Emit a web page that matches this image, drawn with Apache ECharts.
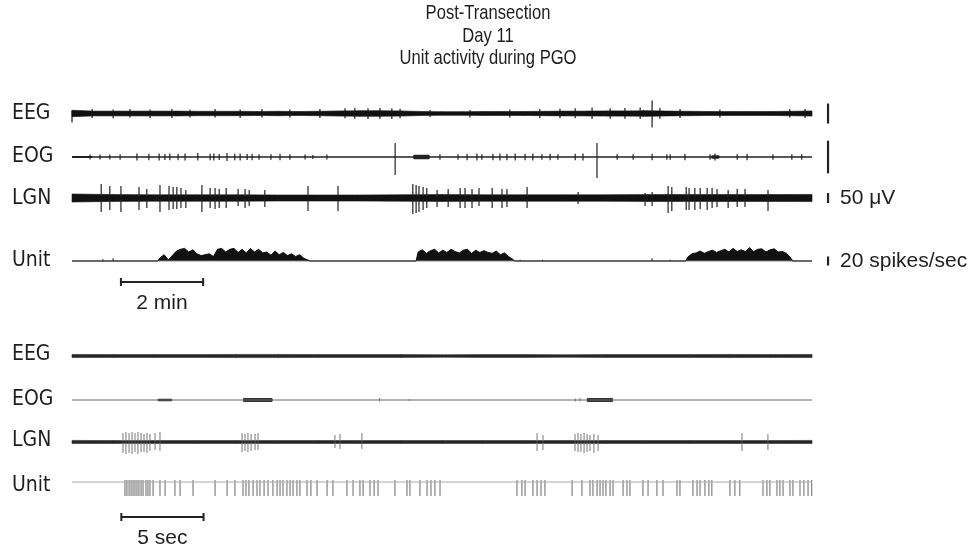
<!DOCTYPE html>
<html><head><meta charset="utf-8">
<script src="https://cdn.jsdelivr.net/npm/echarts@6/dist/echarts.min.js"></script>
<style>html,body{margin:0;padding:0;background:#fff}#c{width:976px;height:544px}</style>
</head><body><div id="c"></div><script>
// ---------- text ----------
const titleLines = ['Post-Transection', 'Day 11', 'Unit activity during PGO'];
const rowLabels = ['EEG', 'EOG', 'LGN', 'Unit', 'EEG', 'EOG', 'LGN', 'Unit'];
const calLabels = ['', '', '50 μV', '20 spikes/sec'];
const scaleLabels = ['2 min', '5 sec'];

// ---------- top panel (time in minutes, amplitude in µV / spikes per sec) ----------
const eegTopEnvStep = 0.5;
const eegTopEnv = [16,12,12,12,12,12,11,11,11,10,11,10,11,13,14,14,13,10,9,9,10,10,10,11,12,12,13,13,14,12,11,10,10,10,10,11,13];
const eegTopSpikes = [[0.0,15,45],[0.35,8,8],[0.49,22,22],[1.00,20,24],[1.41,22,20],[1.90,20,22],[2.43,22,22],[2.87,20,20],[3.4,6,6],[3.48,22,20],[4.09,20,22],[4.62,22,20],[5.30,20,20],[6.03,22,22],[6.64,26,24],[6.88,28,26],[7.20,26,28],[7.3,12,12],[7.49,28,26],[7.7,10,12],[7.78,26,28],[7.98,24,24],[8.71,18,18],[9.68,18,20],[10.65,20,20],[11.38,22,22],[11.87,24,24],[12.24,26,24],[12.65,30,28],[13.09,26,26],[13.45,28,26],[13.6,14,14],[13.82,30,28],[13.9,18,16],[14.11,65,70],[14.30,28,26],[14.79,22,22],[15.76,20,20],[17.46,22,20],[17.83,22,22],[17.9,8,8]];

const eogTopSpikes = [[0.44,12,12],[0.68,12,12],[0.92,12,12],[1.17,14,14],[1.58,18,18],[1.87,16,16],[2.12,18,18],[2.26,15,15],[2.38,18,16],[2.58,16,16],[2.75,18,18],[3.06,20,18],[3.36,16,16],[3.45,18,18],[3.58,15,15],[3.77,20,20],[3.96,16,16],[4.09,18,18],[4.26,15,15],[4.38,16,16],[4.55,14,14],[4.84,14,14],[5.06,16,16],[5.30,14,14],[5.67,12,12],[5.86,10,10],[6.20,12,12],[7.86,70,90],[8.95,14,14],[9.39,14,14],[9.61,16,16],[9.85,18,18],[9.97,14,14],[10.24,16,16],[10.41,18,18],[10.58,16,16],[10.78,18,18],[11.02,16,16],[11.21,18,18],[11.43,14,14],[11.63,16,16],[11.82,14,14],[12.24,16,16],[12.43,18,18],[12.77,70,105],[13.26,14,14],[13.65,14,14],[14.11,16,16],[14.47,14,14],[14.55,14,14],[14.91,16,16],[15.52,14,14],[15.64,18,18],[16.18,14,14],[16.42,16,16],[17.05,14,14],[17.51,14,14],[17.75,14,14]];
const eogTopBlobs = [[0.0,0.5,5],[8.3,8.7,11],[15.55,15.75,9]];

const lgnTopEnvStep = 1;
const lgnTopEnv = [20,17,16,16,16,15,15,15,16,17,16,16,16,16,17,17,17,17,18];
const lgnTopSpikes = [[0.71,70,70],[0.92,60,60],[1.19,60,70],[1.63,55,60],[1.82,45,50],[2.14,65,70],[2.36,60,60],[2.46,55,55],[2.55,55,55],[2.65,50,50],[2.77,40,50],[3.16,65,70],[3.36,50,50],[3.48,50,55],[3.58,45,50],[3.75,50,50],[4.04,45,40],[4.21,45,50],[4.31,40,40],[4.69,40,45],[5.74,60,65],[6.47,60,65],[8.29,70,80],[8.37,65,75],[8.44,60,70],[8.54,55,60],[8.63,50,50],[8.88,40,45],[9.15,45,45],[9.44,50,50],[9.56,50,50],[9.73,45,50],[9.90,50,40],[10.22,50,50],[10.46,45,50],[10.58,45,45],[11.07,55,50],[12.31,30,30],[13.94,25,40],[14.11,30,40],[14.50,60,75],[14.59,55,65],[14.94,55,60],[15.01,50,60],[15.15,50,60],[15.28,50,55],[15.45,50,60],[15.57,50,50],[15.69,45,45],[15.96,40,50],[16.18,45,45],[16.37,45,45],[16.93,40,65]];

const unitBurstStep = 0.1;
const unitBurstStarts = [2.14, 8.42, 14.98];
const unitBurst1 = [7,14,3,12,22,26,28,20,25,16,12,14,16,10,26,28,20,26,28,19,26,18,28,20,26,18,20,13,22,14,19,12,16,10,14,6,2];
const unitBurst2 = [20,25,17,23,26,18,24,19,26,21,18,24,26,17,24,19,23,19,17,22,14,18,10,4];
const unitBurst3 = [9,16,18,22,17,21,24,19,23,26,20,28,21,25,21,30,21,26,27,20,25,27,20,21,17,7];
const unitTopBlips = [[0.75,4,0],[1.0,6,0],[10.9,3,0],[11.45,3,0],[14.11,6,0],[14.55,3,0]];

const calTime = 18.39;
const calHalf = [50, 82, 25, 10];        // EEG, EOG, LGN (µV), Unit (spikes/s)
const topScaleBar = [1.19, 3.19];       // 2 min

// ---------- bottom panel (time in seconds) ----------
const eegLowEnvStep = 2.5;
const eegLowEnv = [8,7,7,7,8,8,7,7,7,6,7,7,6,7,7,7,8,7,8];
const eogLowBlobs = [[5.2,6.1,6],[10.4,12.2,10],[31.3,32.9,10]];
const eogLowWiggles = [[18.7,10,6],[20.5,4,4],[30.6,8,8],[30.9,10,6]];
const lgnLowEnvStep = 2.5;
const lgnLowEnv = [8,7,7,7,7,7,7,7,7,7,7,7,7,7,7,7,7,7,8];
const lgnLowSpikes = [[3.10,45,55],[3.28,50,60],[3.47,45,55],[3.65,50,60],[3.83,45,50],[4.01,50,60],[4.20,45,50],[4.38,40,50],[4.56,45,55],[4.74,40,45],[5.05,45,40],[5.35,50,45],[10.34,45,50],[10.52,40,45],[10.70,45,50],[10.89,40,45],[11.13,40,40],[11.31,45,40],[15.99,35,30],[16.30,40,35],[17.63,45,35],[28.28,45,45],[28.64,35,40],[30.59,40,45],[30.77,45,50],[30.95,40,50],[31.14,45,55],[31.32,40,50],[31.50,35,45],[31.74,40,55],[31.99,35,45],[40.74,45,45],[42.32,40,40]];
const unitLowTicks = [3.22,3.34,3.47,3.59,3.71,3.83,3.95,4.07,4.20,4.32,4.50,4.62,4.74,4.93,5.35,5.66,6.26,6.57,7.36,8.70,9.43,9.91,10.40,10.58,10.76,11.01,11.25,11.43,11.68,11.92,12.22,12.47,12.65,12.83,13.07,13.26,13.44,13.68,13.86,14.29,14.53,14.90,15.51,15.87,16.72,17.09,17.51,17.70,18.12,18.37,18.61,19.64,20.37,20.55,21.16,21.59,21.83,22.07,22.38,27.06,27.36,27.55,28.03,28.28,28.52,28.76,30.41,31.01,31.50,31.68,31.93,32.11,32.29,32.47,32.72,32.90,33.51,33.75,33.93,34.72,35.03,35.57,35.94,36.79,36.97,37.76,38.01,38.19,38.49,38.73,38.91,40.01,40.31,40.61,42.02,42.26,42.44,42.87,43.05,43.24,43.66,43.84,44.27,44.51,44.76,44.98];
const lowScaleBar = [3.0, 8.0];         // 5 sec

// ---------- layout ----------
const FONT = "'Liberation Sans', Arial, sans-serif";
const NARROW = "'Liberation Sans Narrow', 'DejaVu Sans Condensed', 'Liberation Sans', sans-serif";
const TXT = '#1e1e1e';
const topLen = 18, topMax = 18.5, lowMax = 45;
const pxPerMin = 740 / topLen;
const grids = [
  {top: 83.5, height: 60, xMax: topMax, y: [-150,150]},   // 0 EEG
  {top: 127,  height: 60, xMax: topMax, y: [-150,150]},   // 1 EOG
  {top: 168,  height: 60, xMax: topMax, y: [-150,150]},   // 2 LGN
  {top: 243,  height: 27, xMax: topMax, y: [-20,40]},     // 3 Unit
  {top: 272,  height: 20, xMax: topMax, y: [0,1]},        // 4 scale
  {top: 326,  height: 60, xMax: lowMax, y: [-150,150]},   // 5 EEG
  {top: 370,  height: 60, xMax: lowMax, y: [-150,150]},   // 6 EOG
  {top: 412,  height: 60, xMax: lowMax, y: [-150,150]},   // 7 LGN
  {top: 467,  height: 30, xMax: lowMax, y: [-15,15]},     // 8 Unit raster
  {top: 507,  height: 20, xMax: lowMax, y: [0,1]}         // 9 scale
];
const labelY = [114, 157, 199, 261, 355, 400, 441, 486];
const titleY = [13.5, 36, 58.5];

// ---------- renderers ----------
function spikeRender(color, width) {
  return function (params, api) {
    const t = api.value(0), up = api.value(1), dn = api.value(2);
    const a = api.coord([t, up]), b = api.coord([t, -dn]);
    return {type: 'line', shape: {x1: a[0], y1: a[1], x2: b[0], y2: b[1]}, style: {stroke: color, lineWidth: width}};
  };
}
function bandRender(color, n) {
  return function (params, api) {
    const i = params.dataIndexInside;
    if (i >= n - 1) return null;
    const t0 = api.value(0, i), e0 = api.value(1, i), t1 = api.value(0, i + 1), e1 = api.value(1, i + 1);
    const pts = [api.coord([t0, e0]), api.coord([t1, e1]), api.coord([t1, -e1]), api.coord([t0, -e0])];
    return {type: 'polygon', shape: {points: pts}, style: {fill: color, stroke: color, lineWidth: 0.6}};
  };
}
function blobRender(color) {
  return function (params, api) {
    const a = api.coord([api.value(0), api.value(2)]), b = api.coord([api.value(1), -api.value(2)]);
    return {type: 'rect', shape: {x: a[0], y: a[1], width: b[0] - a[0], height: b[1] - a[1], r: 1}, style: {fill: color}};
  };
}
function calRender(label) {
  return function (params, api) {
    const t = api.value(0), h = api.value(1);
    const a = api.coord([t, h]), b = api.coord([t, -h]);
    const children = [{type: 'line', shape: {x1: a[0], y1: a[1], x2: b[0], y2: b[1]}, style: {stroke: '#222', lineWidth: 2.2}}];
    if (label) children.push({type: 'text', x: a[0] + 12, y: (a[1] + b[1]) / 2,
      style: {text: label, fill: TXT, font: '21px ' + FONT, verticalAlign: 'middle', align: 'left'}});
    return {type: 'group', children};
  };
}
function scaleRender(label) {
  return function (params, api) {
    const a = api.coord([api.value(0), 0.5]), b = api.coord([api.value(1), 0.5]);
    return {type: 'group', children: [
      {type: 'line', shape: {x1: a[0], y1: a[1], x2: b[0], y2: b[1]}, style: {stroke: '#222', lineWidth: 2}},
      {type: 'line', shape: {x1: a[0], y1: a[1] - 4, x2: a[0], y2: a[1] + 4}, style: {stroke: '#222', lineWidth: 2}},
      {type: 'line', shape: {x1: b[0], y1: b[1] - 4, x2: b[0], y2: b[1] + 4}, style: {stroke: '#222', lineWidth: 2}},
      {type: 'text', x: (a[0] + b[0]) / 2, y: a[1] + 21,
        style: {text: label, fill: TXT, font: '21px ' + FONT, align: 'center', verticalAlign: 'middle'}}
    ]};
  };
}

// ---------- data builders ----------
const envPts = (env, step) => env.map((e, i) => [+(i * step).toFixed(3), e]);
function burstData(starts, bursts, step, end) {
  const d = [[0, 0]];
  bursts.forEach((vals, k) => {
    const s = starts[k];
    d.push([s - step / 2, 0]);
    vals.forEach((v, i) => d.push([+(s + i * step).toFixed(3), v]));
    d.push([s + (vals.length - 1) * step + step / 2, 0]);
  });
  d.push([end, 0]);
  return d;
}

const series = [];
function custom(gi, data, render) {
  series.push({type: 'custom', xAxisIndex: gi, yAxisIndex: gi, data, renderItem: render, silent: true, clip: false});
}
function baseline(gi, end, color, width) {
  series.push({type: 'line', xAxisIndex: gi, yAxisIndex: gi, data: [[0, 0], [end, 0]], symbol: 'none',
    lineStyle: {color, width}, silent: true});
}

// top EEG
custom(0, envPts(eegTopEnv, eegTopEnvStep), bandRender('#111', eegTopEnv.length));
baseline(0, topLen, '#111', 2);
custom(0, eegTopSpikes, spikeRender('#1a1a1a', 1.2));
custom(0, [[calTime, calHalf[0], calHalf[0]]], calRender(calLabels[0]));
// top EOG
baseline(1, topLen, '#222', 1.6);
custom(1, eogTopBlobs, blobRender('#222'));
custom(1, eogTopSpikes, spikeRender('#222', 1.2));
custom(1, [[calTime, calHalf[1], calHalf[1]]], calRender(calLabels[1]));
// top LGN
custom(2, envPts(lgnTopEnv, lgnTopEnvStep), bandRender('#111', lgnTopEnv.length));
baseline(2, topLen, '#111', 2);
custom(2, lgnTopSpikes, spikeRender('#222', 1.2));
custom(2, [[calTime, calHalf[2], calHalf[2]]], calRender(calLabels[2]));
// top Unit
baseline(3, topLen, '#888', 1);
series.push({type: 'line', xAxisIndex: 3, yAxisIndex: 3, symbol: 'none', silent: true,
  data: burstData(unitBurstStarts, [unitBurst1, unitBurst2, unitBurst3], unitBurstStep, topLen),
  lineStyle: {color: '#111', width: 1}, areaStyle: {color: '#111', opacity: 1}});
custom(3, unitTopBlips, spikeRender('#333', 1.2));
custom(3, [[calTime, calHalf[3], calHalf[3]]], calRender(calLabels[3]));
// top scale bar
custom(4, [topScaleBar], scaleRender(scaleLabels[0]));

// bottom EEG
custom(5, envPts(eegLowEnv, eegLowEnvStep), bandRender('#2a2a2a', eegLowEnv.length));
baseline(5, lowMax, '#222', 1.2);
// bottom EOG
baseline(6, lowMax, '#666', 1);
custom(6, eogLowBlobs, blobRender('#333'));
custom(6, eogLowWiggles, spikeRender('#777', 1));
// bottom LGN
custom(7, envPts(lgnLowEnv, lgnLowEnvStep), bandRender('#2a2a2a', lgnLowEnv.length));
baseline(7, lowMax, '#222', 1.2);
custom(7, lgnLowSpikes, spikeRender('#777', 1));
// bottom Unit raster
baseline(8, lowMax, '#aaa', 1);
custom(8, unitLowTicks.map(t => [t, 2, 14]), spikeRender('#777', 1.1));
// bottom scale bar
custom(9, [lowScaleBar], scaleRender(scaleLabels[1]));

const graphic = [];
titleLines.forEach((t, i) => graphic.push({type: 'text', x: 488, y: titleY[i], scaleX: 0.79, silent: true,
  style: {text: t, fill: TXT, font: '21px ' + FONT, align: 'center', verticalAlign: 'middle'}}));
rowLabels.forEach((t, i) => graphic.push({type: 'text', x: 12, y: labelY[i], silent: true,
  style: {text: t, fill: TXT, font: '21px ' + NARROW, verticalAlign: 'middle'}}));

const option = {
  animation: false,
  backgroundColor: '#fff',
  grid: grids.map(g => ({left: 72, top: g.top, height: g.height,
    width: g.xMax === topMax ? topMax * pxPerMin : 740, containLabel: false})),
  xAxis: grids.map((g, i) => ({type: 'value', gridIndex: i, min: 0, max: g.xMax, show: false})),
  yAxis: grids.map((g, i) => ({type: 'value', gridIndex: i, min: g.y[0], max: g.y[1], show: false})),
  graphic,
  series
};
const chart = echarts.init(document.getElementById('c'), null, {renderer: 'canvas'});
chart.setOption(option);
</script></body></html>
